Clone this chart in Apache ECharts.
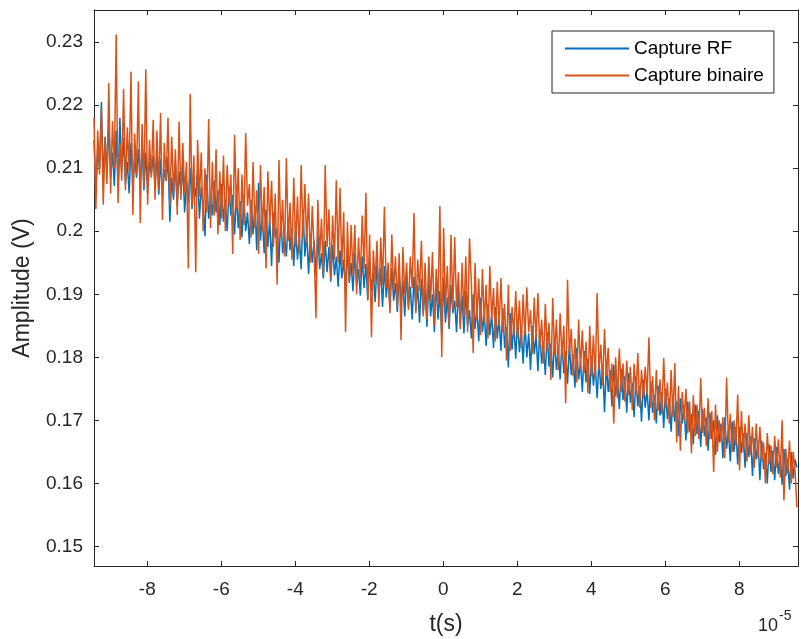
<!DOCTYPE html>
<html>
<head>
<meta charset="utf-8">
<script src="https://cdn.jsdelivr.net/npm/echarts@6/dist/echarts.min.js"></script>
<style>html,body{margin:0;padding:0;background:#fff}#c{width:801px;height:639px}</style>
</head>
<body>
<div id="c"></div>
<script>
// time axis (units of 1e-5 s): first sample and sampling step
const tStart = -9.44;
const tStep = 0.05;
const xTicks = [-8, -6, -4, -2, 0, 2, 4, 6, 8];
const yTicks = [0.15, 0.16, 0.17, 0.18, 0.19, 0.2, 0.21, 0.22, 0.23];
const seriesNames = ['Capture RF', 'Capture binaire'];

const rfValues = [
0.2145,0.2062,0.2130,0.2100,0.2205,0.2080,0.2150,0.2090,0.2170,0.2085,0.2125,0.2072,0.2160,0.2068,0.2180,0.2095,0.2148,0.2075,0.2110,0.2060,
0.2140,0.2070,0.2115,0.2085,0.2130,0.2078,0.2135,0.2065,0.2125,0.2060,0.2110,0.2090,0.2120,0.2072,0.2125,0.2058,0.2115,0.2055,0.2098,0.2080,
0.2118,0.2015,0.2085,0.2050,0.2110,0.2040,0.2095,0.2060,0.2105,0.2030,0.2080,0.2045,0.2100,0.2035,0.2075,0.2055,0.2095,0.2020,0.2070,0.2040,
0.1992,0.2090,0.2020,0.2055,0.2025,0.2080,0.2030,0.2065,0.2010,0.2075,0.2015,0.2050,0.2000,0.2070,0.2025,0.2058,0.1995,0.2060,0.2005,0.2048,
0.1990,0.2055,0.2000,0.2030,0.1980,0.2050,0.1995,0.2040,0.1970,0.2077,0.1985,0.2025,0.1965,0.2035,0.1975,0.2020,0.1945,0.2030,0.1990,0.2005,
0.1950,0.2025,0.1965,0.1995,0.1960,0.2020,0.1970,0.2005,0.1945,0.2010,0.1955,0.1990,0.1940,0.2035,0.1960,0.2000,0.1932,0.1995,0.1950,0.1985,
0.1930,0.1998,0.1940,0.1965,0.1925,0.1985,0.1935,0.1975,0.1920,0.1978,0.1930,0.1960,0.1912,0.1970,0.1925,0.1955,0.1905,0.1972,0.1918,0.1950,
0.1905,0.1965,0.1915,0.1940,0.1898,0.1960,0.1910,0.1948,0.1892,0.1955,0.1905,0.1935,0.1888,0.1950,0.1900,0.1942,0.1880,0.1945,0.1895,0.1930,
0.1878,0.1942,0.1890,0.1918,0.1872,0.1938,0.1885,0.1922,0.1865,0.1932,0.1880,0.1912,0.1860,0.1928,0.1875,0.1915,0.1855,0.1925,0.1870,0.1908,
0.1848,0.1925,0.1865,0.1900,0.1840,0.1920,0.1860,0.1905,0.1832,0.1927,0.1855,0.1895,0.1845,0.1915,0.1870,0.1890,0.1840,0.1910,0.1852,0.1898,
0.1838,0.1905,0.1850,0.1875,0.1830,0.1900,0.1845,0.1880,0.1825,0.1895,0.1840,0.1870,0.1818,0.1885,0.1835,0.1868,0.1815,0.1880,0.1830,0.1862,
0.1810,0.1878,0.1815,0.1848,0.1784,0.1870,0.1812,0.1852,0.1798,0.1862,0.1808,0.1842,0.1790,0.1855,0.1800,0.1838,0.1780,0.1850,0.1805,0.1835,
0.1778,0.1845,0.1790,0.1818,0.1772,0.1840,0.1785,0.1822,0.1768,0.1832,0.1780,0.1812,0.1765,0.1825,0.1775,0.1810,0.1758,0.1820,0.1772,0.1805,
0.1752,0.1815,0.1765,0.1792,0.1745,0.1810,0.1760,0.1798,0.1742,0.1802,0.1755,0.1788,0.1735,0.1795,0.1750,0.1785,0.1713,0.1790,0.1745,0.1780,
0.1722,0.1788,0.1738,0.1765,0.1718,0.1782,0.1732,0.1770,0.1712,0.1775,0.1728,0.1760,0.1705,0.1770,0.1722,0.1755,0.1698,0.1765,0.1720,0.1750,
0.1700,0.1762,0.1712,0.1740,0.1695,0.1755,0.1708,0.1745,0.1688,0.1750,0.1702,0.1735,0.1682,0.1740,0.1698,0.1730,0.1675,0.1735,0.1695,0.1725,
0.1668,0.1730,0.1682,0.1710,0.1662,0.1725,0.1678,0.1715,0.1658,0.1718,0.1675,0.1705,0.1652,0.1712,0.1670,0.1700,0.1645,0.1708,0.1665,0.1695,
0.1640,0.1705,0.1655,0.1685,0.1635,0.1698,0.1650,0.1690,0.1630,0.1690,0.1648,0.1680,0.1625,0.1680,0.1642,0.1675,0.1612,0.1672,0.1638,0.1668,
0.1605,0.1668,0.1622,0.1648,0.1600,0.1662,0.1618,0.1652,0.1605,0.1658,0.1615,0.1645,0.1598,0.1655,0.1612,0.1640,0.1590,0.1650,0.1608,0.1638,
0.1625
];

const binValues = [
0.2180,0.2035,0.2160,0.2090,0.2195,0.2042,0.2150,0.2075,0.2235,0.2060,0.2175,0.2100,0.2312,0.2045,0.2140,0.2080,0.2226,0.2065,0.2165,0.2095,
0.2253,0.2026,0.2155,0.2090,0.2238,0.2013,0.2170,0.2070,0.2257,0.2042,0.2145,0.2085,0.2177,0.2050,0.2160,0.2065,0.2188,0.2018,0.2140,0.2080,
0.2180,0.2040,0.2150,0.2060,0.2130,0.2026,0.2174,0.2050,0.2140,0.2060,0.2110,0.1941,0.2218,0.2040,0.2120,0.1935,0.2145,0.2055,0.2125,0.2000,
0.2100,0.2030,0.2178,0.2005,0.2110,0.2025,0.2130,0.1995,0.2095,0.2020,0.2120,0.2000,0.2105,0.2040,0.2090,0.1964,0.2153,0.2035,0.2100,0.1986,
0.2090,0.2010,0.2156,0.2040,0.2075,0.1990,0.2110,0.2005,0.2065,0.1964,0.2105,0.2000,0.2070,0.1941,0.2095,0.2010,0.2080,0.1975,0.2060,0.1915,
0.2113,0.1990,0.2050,0.1960,0.2116,0.1985,0.2045,0.1955,0.2085,0.1975,0.2055,0.1965,0.2105,0.1990,0.2075,0.1980,0.2060,0.1950,0.2040,0.1970,
0.1862,0.2050,0.1960,0.2020,0.1930,0.2105,0.1975,0.2035,0.1925,0.2025,0.1955,0.2081,0.1950,0.2069,0.1945,0.2030,0.1840,0.2015,0.1920,0.2010,
0.1930,0.2010,0.1900,0.1990,0.1925,0.2025,0.1940,0.2061,0.1890,0.1995,0.1832,0.1970,0.1920,0.1985,0.1880,0.1990,0.1915,0.2039,0.1910,0.1950,
0.1870,0.1995,0.1905,0.1960,0.1880,0.1965,0.1827,0.1975,0.1900,0.1950,0.1875,0.1960,0.1910,0.2029,0.1870,0.1955,0.1905,0.1985,0.1865,0.1950,
0.1860,0.1960,0.1890,0.1967,0.1850,0.1940,0.1885,0.2040,0.1800,0.2005,0.1880,0.1945,0.1850,0.1994,0.1875,0.1991,0.1880,0.1935,0.1845,0.1950,
0.1865,0.1960,0.1840,0.1989,0.1920,0.1807,0.1950,0.1860,0.1925,0.1835,0.1940,0.1855,0.1915,0.1830,0.1945,0.1860,0.1910,0.1825,0.1920,0.1850,
0.1926,0.1840,0.1885,0.1795,0.1915,0.1810,0.1880,0.1835,0.1905,0.1830,0.1890,0.1815,0.1900,0.1835,0.1911,0.1840,0.1875,0.1805,0.1895,0.1830,
0.1902,0.1815,0.1860,0.1790,0.1885,0.1810,0.1855,0.1764,0.1894,0.1805,0.1860,0.1780,0.1870,0.1800,0.1850,0.1727,0.1923,0.1805,0.1845,0.1770,
0.1830,0.1760,0.1860,0.1780,0.1843,0.1775,0.1825,0.1743,0.1850,0.1770,0.1835,0.1765,0.1902,0.1780,0.1820,0.1755,0.1845,0.1770,0.1815,0.1745,
0.1790,0.1695,0.1800,0.1735,0.1814,0.1745,0.1790,0.1730,0.1795,0.1740,0.1785,0.1716,0.1790,0.1740,0.1807,0.1720,0.1780,0.1735,0.1785,0.1740,
0.1832,0.1720,0.1770,0.1700,0.1780,0.1715,0.1765,0.1710,0.1799,0.1720,0.1760,0.1695,0.1780,0.1705,0.1791,0.1665,0.1755,0.1652,0.1745,0.1700,
0.1750,0.1680,0.1730,0.1648,0.1740,0.1675,0.1725,0.1670,0.1767,0.1680,0.1720,0.1660,0.1735,0.1670,0.1715,0.1618,0.1725,0.1650,0.1700,0.1665,
0.1705,0.1640,0.1768,0.1665,0.1710,0.1650,0.1700,0.1660,0.1741,0.1621,0.1715,0.1650,0.1695,0.1635,0.1708,0.1645,0.1690,0.1625,0.1695,0.1640,
0.1690,0.1635,0.1665,0.1600,0.1680,0.1630,0.1660,0.1615,0.1675,0.1625,0.1670,0.1610,0.1700,0.1573,0.1655,0.1615,0.1668,0.1600,0.1650,0.1620,
0.1562
];

const toPairs = vals => vals.map((v, i) => [tStart + i * tStep, v]);

const FONT = 'Liberation Sans, Arial, Helvetica, sans-serif';
const AX = '#262626';
const xMin = -9.44, xMax = 9.59, yMin = 0.1469, yMax = 0.2351;

const chart = echarts.init(document.getElementById('c'), null, {renderer: 'canvas'});
const baseX = {
  type: 'value', min: xMin, max: xMax,
  axisLine: {show: true, onZero: false, lineStyle: {color: AX, width: 1}},
  axisTick: {show: true, inside: true, length: 5, customValues: xTicks, lineStyle: {color: AX}},
  splitLine: {show: false}
};
const baseY = {
  type: 'value', min: yMin, max: yMax,
  axisLine: {show: true, onZero: false, lineStyle: {color: AX, width: 1}},
  axisTick: {show: true, inside: true, length: 5, customValues: yTicks, lineStyle: {color: AX}},
  splitLine: {show: false}
};
chart.setOption({
  animation: false,
  backgroundColor: '#fff',
  grid: {left: 94, right: 3, top: 10, bottom: 73, containLabel: false, outerBoundsMode: 'none'},
  xAxis: [
    Object.assign({}, baseX, {
      position: 'bottom',
      axisLabel: {show: true, customValues: xTicks, margin: 14, fontSize: 19, color: AX, fontFamily: FONT,
        formatter: v => String(v)},
      name: 't(s)', nameLocation: 'middle', nameGap: 47,
      nameTextStyle: {fontSize: 23, color: AX, fontFamily: FONT}
    }),
    Object.assign({}, baseX, {position: 'top', axisLabel: {show: false}})
  ],
  yAxis: [
    Object.assign({}, baseY, {
      position: 'left',
      axisLabel: {show: true, customValues: yTicks, margin: 11, fontSize: 19, color: AX, fontFamily: FONT,
        formatter: v => String(+v.toFixed(2))},
      name: 'Amplitude (V)', nameLocation: 'middle', nameGap: 60, nameRotate: 90,
      nameTextStyle: {fontSize: 23, color: AX, fontFamily: FONT}
    }),
    Object.assign({}, baseY, {position: 'right', axisLabel: {show: false}})
  ],
  legend: {
    left: 552, top: 31, orient: 'vertical', icon: 'rect',
    padding: [8, 10, 8, 13], itemGap: 8, itemWidth: 64, itemHeight: 2,
    backgroundColor: '#fff', borderColor: AX, borderWidth: 1,
    textStyle: {fontSize: 19, color: '#000', fontFamily: FONT},
    data: seriesNames
  },
  series: [
    {name: seriesNames[0], type: 'line', data: toPairs(rfValues), xAxisIndex: 0, yAxisIndex: 0,
     symbol: 'none', showSymbol: false, sampling: 'none', color: '#0072BD', lineStyle: {width: 1.5, color: '#0072BD'}},
    {name: seriesNames[1], type: 'line', data: toPairs(binValues), xAxisIndex: 0, yAxisIndex: 0,
     symbol: 'none', showSymbol: false, sampling: 'none', color: '#D95319', lineStyle: {width: 1.5, color: '#D95319'}}
  ],
  graphic: [
    {type: 'text', left: 758, top: 617, style: {text: '10', fontSize: 18, fill: AX, fontFamily: FONT}},
    {type: 'text', left: 779, top: 609, style: {text: '-5', fontSize: 14, fill: AX, fontFamily: FONT}}
  ]
});
</script>
</body>
</html>
